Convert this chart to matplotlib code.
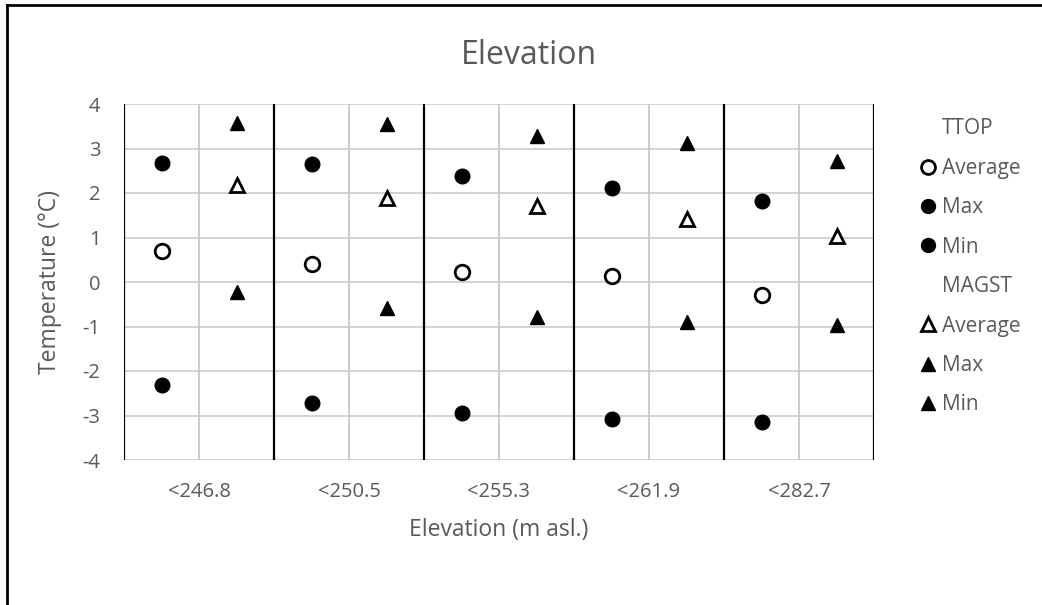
import matplotlib
matplotlib.use("Agg")
import matplotlib.pyplot as plt
from matplotlib.lines import Line2D
import numpy as np

categories = ["<246.8", "<250.5", "<255.3", "<261.9", "<282.7"]
ttop_avg = [0.69, 0.41, 0.22, 0.13, -0.29]
ttop_max = [2.67, 2.65, 2.39, 2.11, 1.83]
ttop_min = [-2.31, -2.71, -2.94, -3.08, -3.15]
magst_avg = [2.19, 1.88, 1.70, 1.42, 1.03]
magst_max = [3.57, 3.55, 3.29, 3.12, 2.73]
magst_min = [-0.22, -0.58, -0.78, -0.89, -0.97]
yticks = [-4, -3, -2, -1, 0, 1, 2, 3, 4]

plt.rcParams['font.family'] = ['Open Sans', 'DejaVu Sans']
plt.rcParams['axes.unicode_minus'] = False
TXT = '#595959'

fig = plt.figure(figsize=(10.42, 6.05), dpi=100)
ax = fig.add_axes([124/1042, 1-460/605, 750/1042, 356/605])

x = np.arange(len(categories))
ms = 10.5
ax.plot(x - 0.25, ttop_avg, 'o', ms=ms, mfc='white', mec='black', mew=2, zorder=5)
ax.plot(x - 0.25, ttop_max, 'o', ms=ms, mfc='black', mec='black', zorder=5)
ax.plot(x - 0.25, ttop_min, 'o', ms=ms, mfc='black', mec='black', zorder=5)
ax.plot(x + 0.25, magst_avg, '^', ms=ms, mfc='white', mec='black', mew=2, zorder=5)
ax.plot(x + 0.25, magst_max, '^', ms=ms, mfc='black', mec='black', zorder=5)
ax.plot(x + 0.25, magst_min, '^', ms=ms, mfc='black', mec='black', zorder=5)

ax.set_xlim(-0.5, len(categories) - 0.5)
ax.set_ylim(-4, 4)
ax.set_yticks(yticks)
ax.set_xticks(x)
ax.set_xticklabels(categories)
for yv in yticks:
    ax.axhline(yv, color='#d0d0d0', lw=1.3, zorder=1)
for xi in x:
    ax.axvline(xi, color='#c8c8c8', lw=1.3, zorder=1)
for b in np.arange(-0.5, len(categories), 1.0):
    ax.axvline(b, color='black', lw=1.6, zorder=2)
for s in ax.spines.values():
    s.set_visible(False)
ax.tick_params(length=0, labelsize=14.5, colors=TXT)
ax.tick_params(axis='x', pad=16)
ax.tick_params(axis='y', pad=17)
ax.set_xlabel("Elevation (m asl.)", fontsize=16.5, color=TXT)
ax.set_ylabel("Temperature (°C)", fontsize=16.5, color=TXT)
ax.xaxis.set_label_coords(0.5, (460-530)/356)
ax.yaxis.set_label_coords((50-124)/750, 0.5)
ax.xaxis.label.set_va('center')
ax.yaxis.label.set_va('center')
ax.yaxis.label.set_ha('center')
fig.text(529/1042, 1-55/605, "Elevation", ha='center', va='center', fontsize=23, color=TXT)

def h(marker, fc):
    return Line2D([], [], ls='none', marker=marker, ms=10, mfc=fc, mec='black', mew=2 if fc == 'white' else 1)
blank = Line2D([], [], ls='none')
handles = [blank, h('o', 'white'), h('o', 'black'), h('o', 'black'),
           blank, h('^', 'white'), h('^', 'black'), h('^', 'black')]
labels = ["TTOP", "Average", "Max", "Min", "MAGST", "Average", "Max", "Min"]
leg = fig.legend(handles, labels, loc='upper left', bbox_to_anchor=(910/1042, 1-108/605),
                 frameon=False, fontsize=15, handlelength=0.75, handletextpad=0.3,
                 labelspacing=0.885, borderpad=0, labelcolor=TXT)

fig.add_artist(Line2D([7/1042, 7/1042], [0, 1-5/605], transform=fig.transFigure, color='black', lw=2))
fig.add_artist(Line2D([7/1042, 1], [1-5/605, 1-5/605], transform=fig.transFigure, color='black', lw=2))

fig.savefig("out.png", dpi=100)
